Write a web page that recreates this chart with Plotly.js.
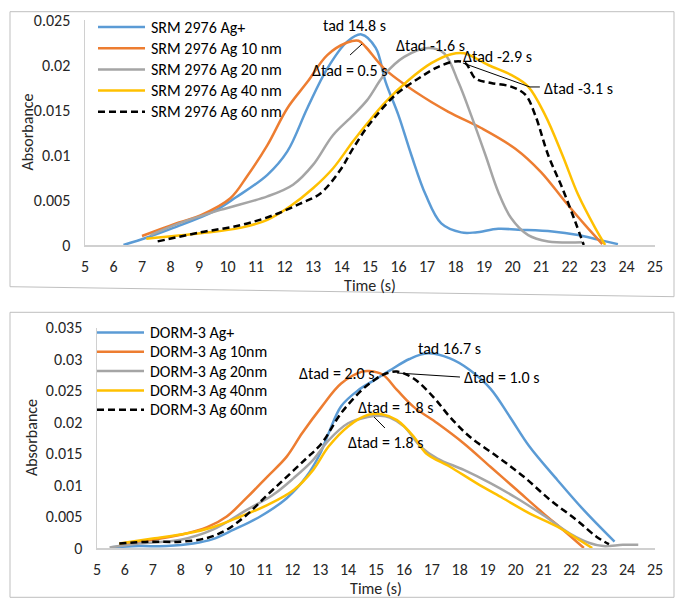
<!DOCTYPE html>
<html>
<head>
<meta charset="utf-8">
<script src="https://cdn.plot.ly/plotly-3.0.1.min.js"></script>
<style>
  body { margin: 0; background: #fff; }
  #chart { width: 685px; height: 610px; }
</style>
</head>
<body>
<div id="chart"></div>
<script>
// ---- top panel : SRM 2976 ----
var srmNames = ['SRM 2976 Ag+', 'SRM 2976 Ag 10 nm', 'SRM 2976 Ag 20 nm', 'SRM 2976 Ag 40 nm', 'SRM 2976 Ag 60 nm'];

var srmAgPlusT = [6.35, 7.15, 8.1, 9.5, 10.3, 11.4, 12.1, 12.8, 13.5, 14.2, 14.7, 15.2, 15.55, 16.0, 16.45, 16.95, 17.5, 18.2, 18.7, 19.5, 20.2, 21.4, 22.3, 23.0, 23.7];
var srmAgPlusA = [0, 0.0008, 0.0019, 0.0037, 0.0053, 0.0078, 0.0104, 0.0152, 0.0196, 0.0226, 0.0234, 0.0219, 0.0181, 0.0144, 0.0100, 0.0056, 0.0024, 0.0014, 0.0014, 0.0018, 0.0017, 0.0015, 0.0011, 0.0006, 0.0001];

var srm10T = [7.0, 8.3, 9.05, 10.1, 10.7, 11.4, 12.1, 12.8, 13.5, 14.2, 14.6, 14.85, 15.5, 16.6, 17.75, 18.9, 20.1, 21.0, 21.85, 22.55, 23.15];
var srm10A = [0.0010, 0.0025, 0.0033, 0.0052, 0.0077, 0.0111, 0.0152, 0.0181, 0.0211, 0.0225, 0.0227, 0.0220, 0.0196, 0.0170, 0.0148, 0.0130, 0.0107, 0.0081, 0.0048, 0.0022, 0.0001];

var srm20T = [7.3, 8.3, 9.75, 11.4, 12.3, 13.0, 13.7, 14.4, 14.9, 15.5, 16.2, 17.05, 17.6, 18.1, 18.55, 19.05, 19.5, 19.95, 20.55, 21.25, 22.45];
var srm20A = [0.0011, 0.0024, 0.0039, 0.0054, 0.0067, 0.0089, 0.0122, 0.0144, 0.0161, 0.0189, 0.0209, 0.0219, 0.0213, 0.0181, 0.0144, 0.0100, 0.0059, 0.0030, 0.0011, 0.0004, 0.0003];

var srm40T = [7.15, 9.05, 10.45, 11.4, 12.2, 13.0, 13.7, 14.4, 14.9, 15.55, 16.35, 17.15, 17.85, 18.3, 19.15, 19.95, 20.55, 21.15, 21.75, 22.3, 22.9, 23.25];
var srm40A = [0.0007, 0.0013, 0.0019, 0.0028, 0.0043, 0.0063, 0.0085, 0.0115, 0.0135, 0.0159, 0.0183, 0.0202, 0.0212, 0.0213, 0.0200, 0.0189, 0.0176, 0.0144, 0.0100, 0.0056, 0.0019, 0];

var srm60T = [7.55, 9.05, 10.45, 11.6, 12.55, 13.25, 13.95, 14.4, 14.95, 15.9, 16.7, 17.4, 18.0, 18.35, 18.7, 19.25, 19.95, 20.45, 20.8, 21.25, 21.75, 22.2, 22.5];
var srm60A = [0.0004, 0.0014, 0.0022, 0.0033, 0.0046, 0.0057, 0.0083, 0.0107, 0.0133, 0.0167, 0.0185, 0.0198, 0.0204, 0.0202, 0.0185, 0.0180, 0.0176, 0.0167, 0.0144, 0.0100, 0.0063, 0.0026, 0];

// ---- bottom panel : DORM-3 ----
var dormNames = ['DORM-3 Ag+', 'DORM-3 Ag 10nm', 'DORM-3 Ag 20nm', 'DORM-3 Ag 40nm', 'DORM-3 Ag 60nm'];

var dormAgPlusT = [5.5, 6.5, 7.5, 8.45, 9.15, 9.9, 10.85, 11.8, 12.5, 13.0, 13.3, 13.75, 14.35, 15.0, 15.5, 16.2, 16.85, 17.65, 18.35, 19.1, 19.8, 20.5, 21.5, 22.45, 23.55];
var dormAgPlusA = [0.0001, 0.0003, 0.0003, 0.0007, 0.0014, 0.0029, 0.0050, 0.0079, 0.0113, 0.0150, 0.0182, 0.0225, 0.0250, 0.0268, 0.0282, 0.0300, 0.0309, 0.0301, 0.0283, 0.0253, 0.0208, 0.0161, 0.0108, 0.0060, 0.0010];

var dorm10T = [5.8, 7.0, 8.0, 8.95, 9.65, 10.35, 11.1, 11.8, 12.35, 13.05, 13.75, 14.5, 14.75, 15.25, 15.75, 16.35, 17.2, 18.15, 19.1, 20.05, 21.0, 21.7, 22.45];
var dorm10A = [0.0006, 0.0013, 0.0021, 0.0033, 0.0050, 0.0079, 0.0113, 0.0145, 0.0182, 0.0224, 0.0261, 0.0280, 0.0281, 0.0275, 0.0251, 0.0224, 0.0198, 0.0166, 0.0129, 0.0092, 0.0055, 0.0029, 0];

var dorm20T = [5.45, 6.55, 8.0, 9.15, 10.35, 11.3, 12.05, 12.75, 13.3, 14.0, 14.7, 15.15, 15.5, 16.0, 16.6, 17.2, 18.15, 19.1, 20.05, 21.0, 21.95, 22.65, 23.15, 23.85, 24.4];
var dorm20A = [0.0001, 0.0007, 0.0013, 0.0029, 0.0060, 0.0084, 0.0111, 0.0140, 0.0171, 0.0198, 0.0208, 0.0210, 0.0207, 0.0193, 0.0161, 0.0142, 0.0124, 0.0103, 0.0079, 0.0052, 0.0023, 0.0008, 0.0003, 0.0005, 0.0005];

var dorm40T = [5.8, 7.0, 8.2, 9.15, 10.15, 11.1, 12.05, 12.75, 13.3, 14.0, 14.7, 15.25, 15.75, 16.35, 16.8, 17.65, 18.6, 19.55, 20.5, 21.5, 22.2, 22.75];
var dorm40A = [0.0007, 0.0015, 0.0023, 0.0033, 0.0050, 0.0068, 0.0092, 0.0124, 0.0161, 0.0193, 0.0211, 0.0212, 0.0203, 0.0177, 0.0150, 0.0129, 0.0103, 0.0079, 0.0055, 0.0034, 0.0015, 0];

var dorm60T = [5.8, 6.9, 8.0, 8.95, 9.65, 10.35, 11.1, 11.8, 12.5, 13.05, 13.75, 14.5, 14.95, 15.25, 15.75, 16.35, 17.05, 17.65, 18.35, 19.35, 20.3, 21.25, 22.2, 22.9, 23.35];
var dorm60A = [0.0007, 0.0010, 0.0010, 0.0016, 0.0029, 0.0052, 0.0084, 0.0113, 0.0142, 0.0166, 0.0214, 0.0251, 0.0267, 0.0275, 0.0280, 0.0269, 0.0240, 0.0208, 0.0177, 0.0145, 0.0113, 0.0076, 0.0044, 0.0018, 0.0006];

var seriesColors = ['#5B9BD5', '#ED7D31', '#A5A5A5', '#FFC000', '#000000'];

var FONT = 'Carlito, Lato, "Liberation Sans", sans-serif';
var W = 685, H = 610;
var DASH = '7px,4px';

// pixel helpers for the paper layout
function px(x) { return x / W; }
function py(y) { return 1 - y / H; }

function makeTrace(name, t, a, i, xa, ya) {
    return {
        type: 'scatter', mode: 'lines', name: name,
        x: t, y: a, xaxis: xa, yaxis: ya, showlegend: false,
        line: { color: seriesColors[i], width: 2.5, shape: 'spline', smoothing: 1,
                dash: i == 4 ? DASH : 'solid' },
        hoverinfo: 'x+y'
    };
}

var data = [];
var srmT = [srmAgPlusT, srm10T, srm20T, srm40T, srm60T];
var srmA = [srmAgPlusA, srm10A, srm20A, srm40A, srm60A];
var dormT = [dormAgPlusT, dorm10T, dorm20T, dorm40T, dorm60T];
var dormA = [dormAgPlusA, dorm10A, dorm20A, dorm40A, dorm60A];
for (var i = 0; i < 5; i++) {
    data.push(makeTrace(srmNames[i], srmT[i], srmA[i], i, 'x', 'y'));
}
for (var i = 0; i < 5; i++) {
    data.push(makeTrace(dormNames[i], dormT[i], dormA[i], i, 'x2', 'y2'));
}

function xAxis(domain, anchor) {
    return {
        domain: domain, anchor: anchor, range: [5, 25], dtick: 1,
        showgrid: false, zeroline: false, showline: true, linecolor: '#d0d0d0', linewidth: 1.5,
        ticks: '', ticklabelstandoff: 6,
        tickfont: { family: FONT, size: 16, color: '#262626' },
        title: { text: 'Time (s)', standoff: 0, font: { family: FONT, size: 16, color: '#262626' } }
    };
}
function yAxis(domain, anchor, top) {
    return {
        domain: domain, anchor: anchor, range: [0, top], dtick: 0.005,
        showgrid: false, zeroline: false, showline: true, linecolor: '#d0d0d0', linewidth: 1.5,
        ticks: '', ticklabelstandoff: 10,
        tickfont: { family: FONT, size: 16, color: '#262626' }
    };
}

function note(text, x, y, xa, ya) {
    return { text: text, x: x, y: y, xref: xa, yref: ya, showarrow: false,
             font: { family: FONT, size: 16, color: '#000' } };
}
function leader(x0, y0, x1, y1, xa, ya) {
    return { type: 'line', xref: xa, yref: ya, x0: x0, y0: y0, x1: x1, y1: y1,
             line: { color: '#000', width: 1 } };
}
function yTitle(xPix, yPix) {
    return { text: 'Absorbance', textangle: -90, xref: 'paper', yref: 'paper',
             x: px(xPix), y: py(yPix), xanchor: 'center', yanchor: 'middle',
             showarrow: false, font: { family: FONT, size: 16, color: '#262626' } };
}

var annotations = [
    note('tad 14.8 s', 14.47, 0.02444, 'x', 'y'),
    note('\u0394tad = 0.5 s', 14.3, 0.01944, 'x', 'y'),
    note('\u0394tad -1.6 s', 17.14, 0.02222, 'x', 'y'),
    note('\u0394tad -2.9 s', 19.49, 0.02089, 'x', 'y'),
    note('\u0394tad -3.1 s', 22.33, 0.01744, 'x', 'y'),
    note('tad 16.7 s', 17.62, 0.03159, 'x2', 'y2'),
    note('\u0394tad = 2.0 s', 13.6, 0.02762, 'x2', 'y2'),
    note('\u0394tad = 1.0 s', 19.52, 0.02714, 'x2', 'y2'),
    note('\u0394tad = 1.8 s', 15.72, 0.02238, 'x2', 'y2'),
    note('\u0394tad = 1.8 s', 15.36, 0.01667, 'x2', 'y2'),
    yTitle(27, 132.5),
    yTitle(31, 438)
];

var shapes = [
    // panel frames
    { type: 'path', xref: 'paper', yref: 'paper',
      path: 'M' + px(10) + ',' + py(11.7) + 'L' + px(674) + ',' + py(11.7) +
            'L' + px(674) + ',' + py(296.7) + 'L' + px(10) + ',' + py(286.7) + 'Z',
      line: { color: '#bfbfbf', width: 1 } },
    { type: 'rect', xref: 'paper', yref: 'paper',
      x0: px(10), y0: py(312.3), x1: px(674), y1: py(597.3),
      line: { color: '#bfbfbf', width: 1 } },
    // leader lines
    leader(14.30, 0.02111, 14.72, 0.02233, 'x', 'y'),
    leader(18.26, 0.02022, 20.61, 0.01756, 'x', 'y'),
    leader(20.61, 0.01756, 20.96, 0.01756, 'x', 'y'),
    leader(15.75, 0.02778, 18.01, 0.02714, 'x2', 'y2'),
    leader(14.93, 0.02079, 15.32, 0.01905, 'x2', 'y2')
];

// Excel-style legends, drawn in the upper left of each panel
function addLegend(names, left, top, step) {
    for (var i = 0; i < names.length; i++) {
        var yy = top + i * step;
        shapes.push({ type: 'line', xref: 'paper', yref: 'paper',
            x0: px(left), x1: px(left + 47), y0: py(yy), y1: py(yy),
            line: { color: seriesColors[i], width: 2.5, dash: i == 4 ? DASH : 'solid' } });
        annotations.push({ text: names[i], xref: 'paper', yref: 'paper',
            x: px(left + 51), y: py(yy), xanchor: 'left', yanchor: 'middle', showarrow: false,
            font: { family: FONT, size: 16, color: '#000' } });
    }
}
addLegend(srmNames, 98, 27, 21.2);
addLegend(dormNames, 97, 332.5, 19.3);

var layout = {
    width: W, height: H,
    margin: { l: 0, r: 0, t: 0, b: 0 },
    paper_bgcolor: '#fff', plot_bgcolor: '#fff',
    font: { family: FONT, color: '#262626' },
    showlegend: false,
    xaxis: xAxis([px(85), px(655)], 'y'),
    yaxis: yAxis([py(245), py(20)], 'x', 0.025),
    xaxis2: xAxis([px(97), px(655)], 'y2'),
    yaxis2: yAxis([py(548), py(327.5)], 'x2', 0.035),
    annotations: annotations,
    shapes: shapes
};

Plotly.newPlot('chart', data, layout, { displayModeBar: false, staticPlot: true });
</script>
</body>
</html>
